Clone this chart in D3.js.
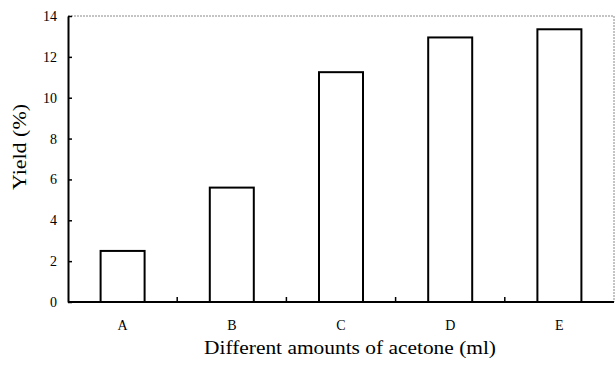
<!DOCTYPE html>
<html>
<head>
<meta charset="utf-8">
<script src="https://cdn.jsdelivr.net/npm/d3@7"></script>
<style>
  body { margin: 0; background: #fff; }
  text { font-family: "Liberation Serif", "Times New Roman", serif; fill: #000; }
</style>
</head>
<body>
<svg id="chart" width="615" height="365"></svg>
<script>
var categories = ['A', 'B', 'C', 'D', 'E']
var yields = [2.5, 5.6, 11.25, 12.95, 13.35]
var yTicks = [0, 2, 4, 6, 8, 10, 12, 14]

var svg = d3.select('#chart'),
  margin = {top: 16, right: 1, bottom: 63, left: 68},
  width = +svg.attr('width') - margin.left - margin.right,
  height = +svg.attr('height') - margin.top - margin.bottom

var x = d3.scaleBand().domain(categories).range([0, width]).paddingInner(0).paddingOuter(0)
var y = d3.scaleLinear().domain([0, 14]).range([height, 0])
var barW = 44

var g = svg.append('g')
  .attr('transform', 'translate(' + margin.left + ',' + margin.top + ')')

// top and right frame, faint dotted
g.append('path')
  .attr('d', 'M0,0H' + width + 'V' + height)
  .attr('fill', 'none')
  .attr('stroke', '#888')
  .attr('stroke-width', 1)
  .style('stroke-dasharray', '2,1')

// bars
g.append('g')
  .selectAll('rect')
  .data(categories)
  .enter().append('rect')
  .attr('x', function (d) { return x(d) + x.bandwidth() / 2 - barW / 2 })
  .attr('y', function (d, i) { return y(yields[i]) })
  .attr('width', barW)
  .attr('height', function (d, i) { return height - y(yields[i]) })
  .attr('fill', '#fff')
  .attr('stroke', '#000')
  .attr('stroke-width', 2)

// y axis
var yAxis = g.append('g')
  .call(d3.axisLeft(y).tickValues(yTicks).tickSizeInner(-4).tickSizeOuter(0).tickPadding(11))
yAxis.select('.domain').attr('stroke-width', 2)
yAxis.selectAll('.tick line').attr('stroke-width', 1.5)
yAxis.selectAll('text').attr('font-size', 14)

// x axis: ticks between categories
var xAxis = g.append('g')
  .attr('transform', 'translate(0,' + height + ')')
xAxis.append('line')
  .attr('x1', 0).attr('x2', width)
  .attr('stroke', '#000').attr('stroke-width', 2)
xAxis.selectAll('.sep')
  .data(categories.slice(1))
  .enter().append('line')
  .attr('class', 'sep')
  .attr('x1', function (d) { return x(d) })
  .attr('x2', function (d) { return x(d) })
  .attr('y1', 0).attr('y2', -5)
  .attr('stroke', '#000').attr('stroke-width', 1.5)
xAxis.selectAll('.lbl')
  .data(categories)
  .enter().append('text')
  .attr('class', 'lbl')
  .attr('x', function (d) { return x(d) + x.bandwidth() / 2 })
  .attr('y', 28)
  .attr('text-anchor', 'middle')
  .attr('font-size', 14)
  .text(function (d) { return d })

// axis titles
svg.append('text')
  .attr('x', 350)
  .attr('y', 354)
  .attr('text-anchor', 'middle')
  .attr('font-size', 19)
  .attr('textLength', 292)
  .attr('lengthAdjust', 'spacingAndGlyphs')
  .text('Different amounts of acetone (ml)')

svg.append('text')
  .attr('transform', 'translate(26,147) rotate(-90)')
  .attr('text-anchor', 'middle')
  .attr('font-size', 19)
  .attr('textLength', 86)
  .attr('lengthAdjust', 'spacingAndGlyphs')
  .text('Yield (%)')
</script>
</body>
</html>
